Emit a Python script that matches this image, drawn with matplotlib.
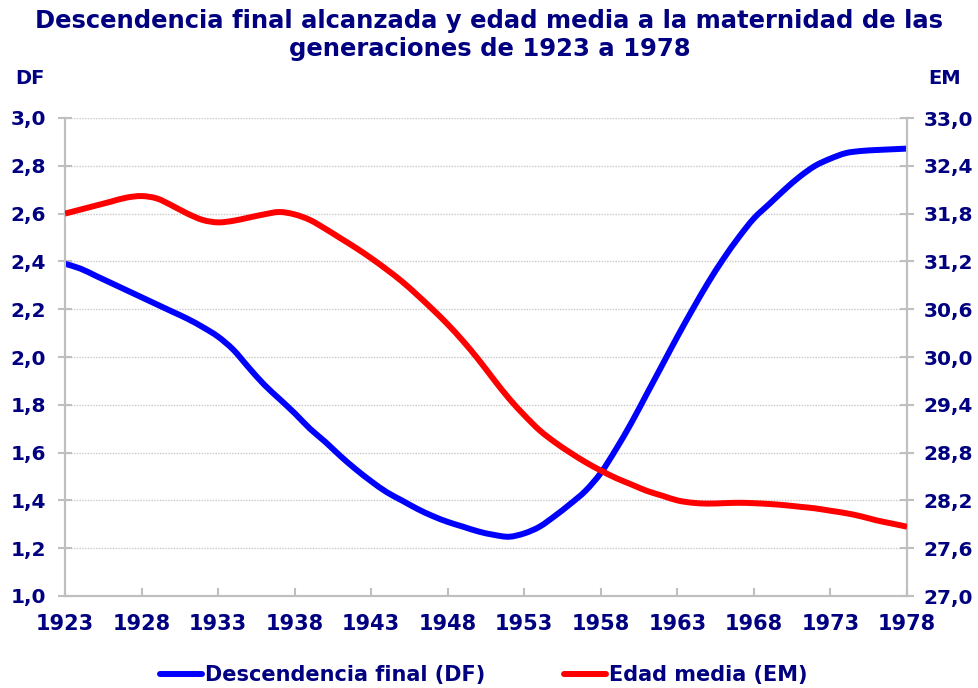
import matplotlib
matplotlib.use("Agg")
import numpy as np
import matplotlib.pyplot as plt
from matplotlib.ticker import FuncFormatter, FixedLocator
from matplotlib.path import Path
from matplotlib.patches import PathPatch
from matplotlib.lines import Line2D

years = list(range(1923, 1979))
df_values = [2.39, 2.37, 2.34, 2.31, 2.28, 2.25, 2.22, 2.19, 2.16, 2.125,
             2.085, 2.03, 1.956, 1.885, 1.825, 1.765, 1.70, 1.645, 1.585, 1.53,
             1.48, 1.435, 1.40, 1.365, 1.335, 1.31, 1.29, 1.27, 1.256, 1.248,
             1.262, 1.29, 1.335, 1.385, 1.44, 1.515, 1.615, 1.725, 1.845, 1.965,
             2.085, 2.20, 2.31, 2.41, 2.50, 2.58, 2.64, 2.70, 2.755, 2.80,
             2.83, 2.853, 2.862, 2.866, 2.869, 2.872]
em_values = [31.80, 31.85, 31.90, 31.95, 32.00, 32.02, 31.99, 31.90, 31.80, 31.72,
             31.69, 31.71, 31.75, 31.79, 31.82, 31.79, 31.72, 31.61, 31.49, 31.37,
             31.24, 31.10, 30.95, 30.78, 30.60, 30.41, 30.20, 29.97, 29.72, 29.48,
             29.27, 29.08, 28.93, 28.80, 28.68, 28.575, 28.48, 28.40, 28.32, 28.26,
             28.20, 28.17, 28.16, 28.165, 28.17, 28.165, 28.155, 28.14, 28.12, 28.10,
             28.07, 28.04, 28.00, 27.95, 27.91, 27.87]
x_ticks = list(range(1923, 1979, 5))
df_ticks = [1.0, 1.2, 1.4, 1.6, 1.8, 2.0, 2.2, 2.4, 2.6, 2.8, 3.0]
em_ticks = [27.0, 27.6, 28.2, 28.8, 29.4, 30.0, 30.6, 31.2, 31.8, 32.4, 33.0]

title = "Descendencia final alcanzada y edad media a la maternidad de las\ngeneraciones de 1923 a 1978"
label_df = "Descendencia final (DF)"
label_em = "Edad media (EM)"

navy = "#000080"
gray = "#bfbfbf"
plt.rcParams['font.family'] = ['DejaVu Sans']
plt.rcParams['font.weight'] = 'bold'


def smooth_path(xs, ys):
    # Excel-style smoothed line: cubic Bezier segments through the points
    xs = np.asarray(xs, float)
    ys = np.asarray(ys, float)
    n = len(xs)
    verts = [(xs[0], ys[0])]
    codes = [Path.MOVETO]
    for i in range(n - 1):
        p0 = (xs[max(i - 1, 0)], ys[max(i - 1, 0)])
        p1 = (xs[i], ys[i])
        p2 = (xs[i + 1], ys[i + 1])
        p3 = (xs[min(i + 2, n - 1)], ys[min(i + 2, n - 1)])
        c1 = (p1[0] + (p2[0] - p0[0]) / 6, p1[1] + (p2[1] - p0[1]) / 6)
        c2 = (p2[0] - (p3[0] - p1[0]) / 6, p2[1] - (p3[1] - p1[1]) / 6)
        verts += [c1, c2, p2]
        codes += [Path.CURVE4] * 3
    return Path(verts, codes)


fig = plt.figure(figsize=(9.79, 6.88), dpi=100)
W, H = 979, 688
ax = fig.add_axes([65 / W, 1 - 596 / H, (907 - 65) / W, (596 - 118) / H])
ax2 = ax.twinx()

ax.add_patch(PathPatch(smooth_path(years, df_values), facecolor="none",
                       edgecolor="#0000ff", lw=4.3, capstyle="butt",
                       joinstyle="round", zorder=3))
ax2.add_patch(PathPatch(smooth_path(years, em_values), facecolor="none",
                        edgecolor="#ff0000", lw=4.3, capstyle="butt",
                        joinstyle="round", zorder=3))

ax.set_xlim(1923, 1978)
ax.set_ylim(1.0, 3.0)
ax2.set_ylim(27.0, 33.0)
ax.xaxis.set_major_locator(FixedLocator(x_ticks))
ax.yaxis.set_major_locator(FixedLocator(df_ticks))
ax2.yaxis.set_major_locator(FixedLocator(em_ticks))
fmt = FuncFormatter(lambda v, p: f"{v:.1f}".replace(".", ","))
ax.yaxis.set_major_formatter(fmt)
ax2.yaxis.set_major_formatter(fmt)

ax.grid(axis="y", color="#c8c8c8", linestyle=(0, (1, 1)), linewidth=1.0)
ax.set_axisbelow(True)

for a in (ax, ax2):
    a.spines["top"].set_visible(False)
    for s in ("left", "right", "bottom"):
        a.spines[s].set_color(gray)
        a.spines[s].set_linewidth(1.5)
    a.patch.set_visible(False)

ax.tick_params(axis="y", direction="inout", length=10, width=1.5, color=gray,
               labelsize=14.5, labelcolor=navy, pad=8.5)
ax2.tick_params(axis="y", direction="inout", length=10, width=1.5, color=gray,
                labelsize=14.5, labelcolor=navy, pad=7)
ax.tick_params(axis="x", direction="in", length=6, width=1.5, color=gray,
               labelsize=15, labelcolor=navy, pad=13)
for lab in ax.get_xticklabels() + ax.get_yticklabels() + ax2.get_yticklabels():
    lab.set_fontweight("bold")

fig.text(0.5, 1 - 9 / H, title, ha="center", va="top", fontsize=17.5,
         fontweight="bold", color=navy, linespacing=1.2)
fig.text(30 / W, 1 - 78 / H, "DF", ha="center", va="center", fontsize=14,
         fontweight="bold", color=navy)
fig.text(945 / W, 1 - 78 / H, "EM", ha="center", va="center", fontsize=14,
         fontweight="bold", color=navy)

h1 = Line2D([], [], color="#0000ff", lw=4.3, solid_capstyle="round")
h2 = Line2D([], [], color="#ff0000", lw=4.3, solid_capstyle="round")
leg = fig.legend(handles=[h1, h2], labels=[label_df, label_em], loc="center",
                 bbox_to_anchor=(484 / W, 1 - 675 / H), ncol=2, frameon=False,
                 prop={"weight": "bold", "size": 15},
                 handlelength=2.0, handletextpad=0.15, columnspacing=3.8)
for t in leg.get_texts():
    t.set_color(navy)

fig.savefig("out.png", dpi=100)
